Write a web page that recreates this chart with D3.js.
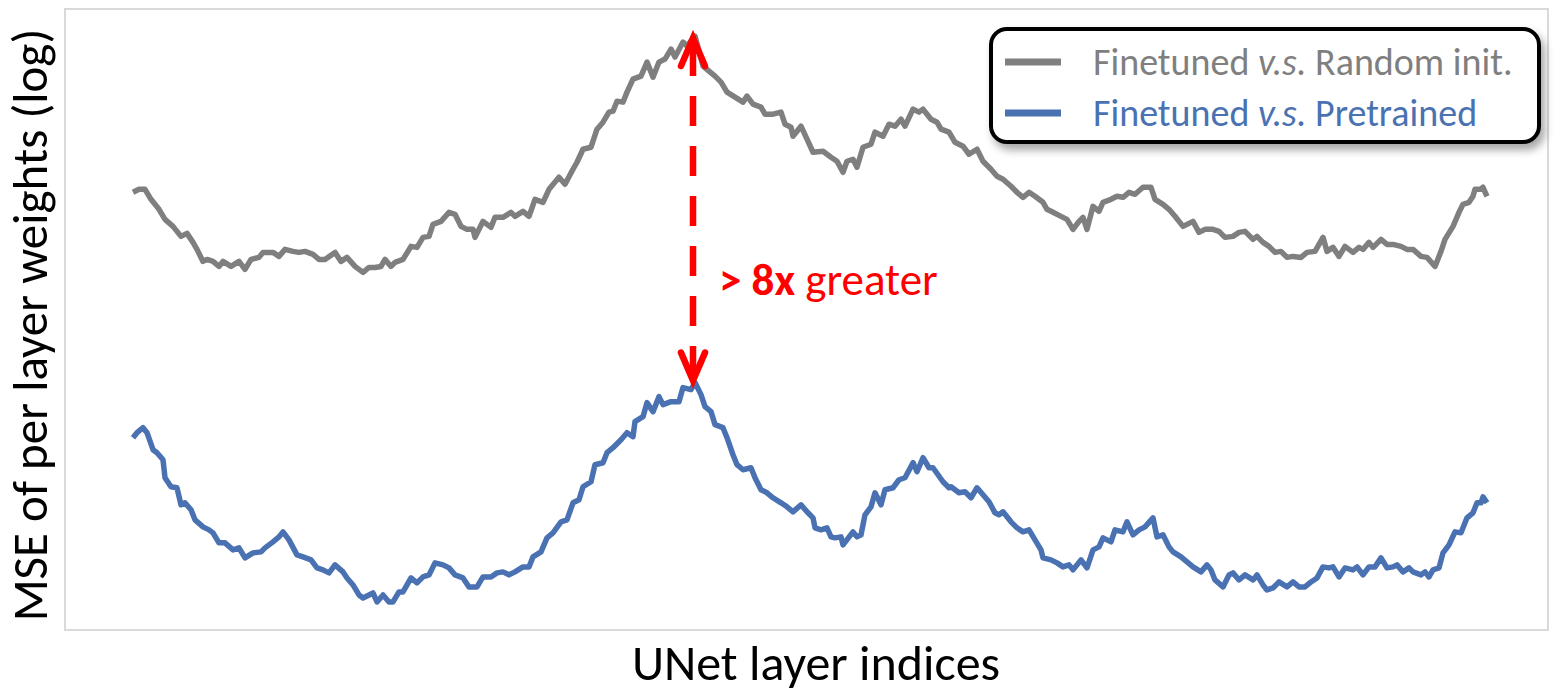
<!DOCTYPE html>
<html>
<head>
  <meta charset="UTF-8">
  <title>MSE of per layer weights</title>
  <style>
    body {
      margin: 0;
      padding: 0;
      background: #fff;
      font-family: Carlito, "Open Sans", sans-serif;
    }
    svg { display: block; }
  </style>
</head>
<body>
  <svg id="chart"></svg>

  <script src="https://d3js.org/d3.v7.min.js"></script>
  <script>
    // layer index and log-MSE (arbitrary log units)
    let randomIdx = [0,3,6,9,13,16,20,24,27,30,32,35,37,40,43,45,49,53,56,59,63,65,70,73,76,80,83,86,90,93,96,101,104,107,111,115,118,121,124,126,129,131,135,139,142,145,148,150,154,158,161,164,167,170,171,175,179,181,185,189,191,195,198,201,205,208,213,216,220,222,225,229,232,235,238,240,242,245,247,250,254,257,260,263,266,269,271,275,277,281,285,288,291,294,297,301,305,307,310,314,316,320,324,326,329,330,334,337,340,345,349,352,355,357,360,362,365,369,371,375,378,381,384,386,390,393,395,399,402,404,408,411,415,418,422,425,429,432,435,439,442,445,448,451,455,457,460,464,467,470,473,475,477,480,483,485,489,492,495,498,501,505,509,511,515,518,521,525,530,533,536,540,543,546,550,553,556,560,562,565,568,571,574,577,580,584,587,591,595,597,600,603,606,610,613,615,618,620,624,627,630,634,637,640,644,647,651,654,656,660,663,665,668,670,671,674,675,677];
    let randomVal = [437,440,440,430,420,410,403,393,396,387,380,368,370,368,363,368,363,368,360,370,372,377,377,373,380,378,377,378,375,370,370,377,368,372,363,357,362,362,363,370,363,367,370,383,382,392,393,405,408,417,415,403,400,400,392,408,402,412,412,417,413,418,413,430,427,440,452,445,460,467,480,482,500,507,517,518,528,527,537,550,553,567,552,567,570,580,572,587,583,593,563,558,553,547,537,532,527,533,525,522,515,515,517,505,502,493,503,490,477,478,472,468,457,468,470,462,482,485,497,493,505,503,510,503,520,517,520,510,507,500,497,487,483,475,480,468,460,453,450,443,437,432,437,433,427,420,417,413,410,400,408,412,400,423,418,427,430,433,432,437,435,442,442,430,425,420,413,403,408,397,400,400,398,392,393,397,398,390,393,387,383,377,378,372,373,372,377,378,392,378,382,373,383,377,382,380,387,382,390,385,385,383,380,380,373,372,363,378,390,403,417,425,427,433,440,440,442,433];

    let pretrainedIdx = [0,2,5,7,10,12,15,16,19,22,24,26,29,31,35,38,40,43,46,50,53,56,60,64,66,70,73,75,78,82,85,89,92,95,98,101,105,107,110,113,115,120,122,125,128,130,133,135,139,142,145,148,151,155,158,161,165,168,172,175,179,182,185,188,191,195,198,200,204,207,210,214,217,220,223,225,229,231,235,237,240,244,247,250,251,255,257,260,263,265,269,273,275,279,281,284,286,289,291,295,297,300,302,305,309,311,314,317,320,324,327,330,334,337,340,341,344,347,349,351,354,355,360,362,364,366,369,371,374,376,380,383,386,390,392,395,398,400,405,408,409,413,416,419,422,425,428,431,433,435,439,442,445,448,451,454,455,459,462,465,468,470,474,477,480,483,485,489,491,495,497,500,503,506,510,512,515,518,520,524,527,530,534,537,539,541,545,548,550,553,556,560,562,565,567,570,573,577,580,583,586,589,592,595,598,600,603,606,610,612,615,618,621,624,627,630,632,635,638,640,644,646,648,650,653,655,658,661,664,667,670,672,674,675,677];
    let pretrainedVal = [192,197,202,197,180,177,170,152,143,142,125,127,120,110,103,100,97,87,87,80,82,72,77,78,82,88,93,98,90,75,73,70,62,60,57,65,58,52,45,35,32,37,28,35,28,28,38,38,52,47,53,55,67,65,62,55,52,43,43,53,53,57,58,55,58,63,63,73,78,92,97,108,110,127,130,143,148,165,167,177,182,190,197,193,208,213,227,218,233,225,228,228,242,240,247,235,223,218,205,202,192,175,165,160,162,152,140,137,132,127,123,118,125,118,112,102,100,102,93,92,93,85,98,93,95,115,123,137,125,140,142,150,152,167,158,172,162,162,148,142,143,137,138,132,142,135,128,117,115,118,108,102,98,100,90,80,72,70,67,63,65,60,70,62,80,83,92,88,100,98,108,95,100,103,112,93,95,83,78,73,68,63,58,65,60,50,43,55,57,50,55,50,55,45,40,42,48,43,48,43,43,48,52,63,62,63,53,62,60,63,55,63,63,72,62,63,65,58,62,58,55,58,53,60,62,77,85,98,97,112,117,127,127,133,127];

    let seriesNames = ["Finetuned", "v.s.", "Random init.", "Pretrained"];
    let nLayers = 677;

    let width = 1563, height = 695;
    let frame = {left: 65, top: 9, right: 1548, bottom: 630};

    let svg = d3.select("#chart")
        .attr("width", width)
        .attr("height", height);

    let defs = svg.append("defs");
    let shadow = defs.append("filter").attr("id", "shadow")
        .attr("x", "-5%").attr("y", "-10%").attr("width", "115%").attr("height", "140%");
    shadow.append("feDropShadow")
        .attr("dx", 4).attr("dy", 6).attr("stdDeviation", 4)
        .attr("flood-color", "#000").attr("flood-opacity", 0.35);

    // plot frame
    svg.append("rect")
        .attr("x", frame.left).attr("y", frame.top)
        .attr("width", frame.right - frame.left)
        .attr("height", frame.bottom - frame.top)
        .attr("fill", "none")
        .attr("stroke", "#d9d9d9")
        .attr("stroke-width", 2);

    let x = d3.scaleLinear().domain([0, nLayers]).range([133, 1487]);
    let y = d3.scaleLinear().domain([0, 620]).range([frame.bottom, frame.top]);

    let line = d3.line()
        .x(d => x(d[0]))
        .y(d => y(d[1]));

    let randomData = d3.zip(randomIdx, randomVal);
    let pretrainedData = d3.zip(pretrainedIdx, pretrainedVal);

    svg.append("path")
        .datum(randomData)
        .attr("d", line)
        .attr("fill", "none")
        .attr("stroke", "#7f7f7f")
        .attr("stroke-width", 5.5)
        .attr("stroke-linejoin", "round");

    svg.append("path")
        .datum(pretrainedData)
        .attr("d", line)
        .attr("fill", "none")
        .attr("stroke", "#4a72b2")
        .attr("stroke-width", 5.5)
        .attr("stroke-linejoin", "round");

    // red double arrow between the two peaks
    let topPeak = randomData[d3.maxIndex(randomData, d => d[1])];
    let botPeak = pretrainedData[d3.maxIndex(pretrainedData, d => d[1])];
    let ax = x(topPeak[0]) - 2;
    let yTop = y(topPeak[1]) + 2, yBot = y(botPeak[1]) - 2;

    let arrow = svg.append("g")
        .attr("stroke", "#ff0000")
        .attr("stroke-width", 6.5)
        .attr("fill", "none")
        .attr("stroke-linecap", "round");

    arrow.append("line")
        .attr("x1", ax).attr("x2", ax)
        .attr("y1", yTop + 8).attr("y2", yBot - 8)
        .attr("stroke-linecap", "butt")
        .attr("stroke-dasharray", "30 20");
    arrow.append("path")
        .attr("d", `M${ax - 12},${yTop + 28} L${ax},${yTop} L${ax + 12},${yTop + 28}`)
        .attr("stroke-linejoin", "miter");
    arrow.append("path")
        .attr("d", `M${ax - 12},${yBot - 28} L${ax},${yBot} L${ax + 12},${yBot - 28}`)
        .attr("stroke-linejoin", "miter");

    let note = svg.append("text")
        .attr("x", 719).attr("y", 295)
        .attr("fill", "#ff0000")
        .style("font-size", "45px");
    note.append("tspan").attr("font-weight", "bold").text("> 8x");
    note.append("tspan").text(" greater");

    // axis titles
    svg.append("text")
        .attr("x", 816).attr("y", 680)
        .attr("text-anchor", "middle")
        .attr("fill", "#000")
        .style("font-size", "50px")
        .text("UNet layer indices");

    svg.append("text")
        .attr("transform", "translate(47,325) rotate(-90)")
        .attr("text-anchor", "middle")
        .attr("fill", "#000")
        .style("font-size", "49px")
        .text("MSE of per layer weights (log)");

    // legend
    let legend = svg.append("g");
    legend.append("rect")
        .attr("x", 991).attr("y", 29)
        .attr("width", 548).attr("height", 113)
        .attr("rx", 16)
        .attr("fill", "#fff")
        .attr("stroke", "#000")
        .attr("stroke-width", 4)
        .attr("filter", "url(#shadow)");

    let items = [
      {color: "#7f7f7f", rest: seriesNames[2], ly: 62},
      {color: "#4a72b2", rest: seriesNames[3], ly: 113}
    ];
    items.forEach(it => {
      legend.append("line")
          .attr("x1", 1005).attr("x2", 1061)
          .attr("y1", it.ly).attr("y2", it.ly)
          .attr("stroke", it.color)
          .attr("stroke-width", 7);
      let t = legend.append("text")
          .attr("x", 1093).attr("y", it.ly + 13)
          .attr("fill", it.color)
          .style("font-size", "38px");
      t.append("tspan").text(seriesNames[0] + " ");
      t.append("tspan").attr("font-style", "italic").text(seriesNames[1]);
      t.append("tspan").text(" " + it.rest);
    });
  </script>
</body>
</html>
